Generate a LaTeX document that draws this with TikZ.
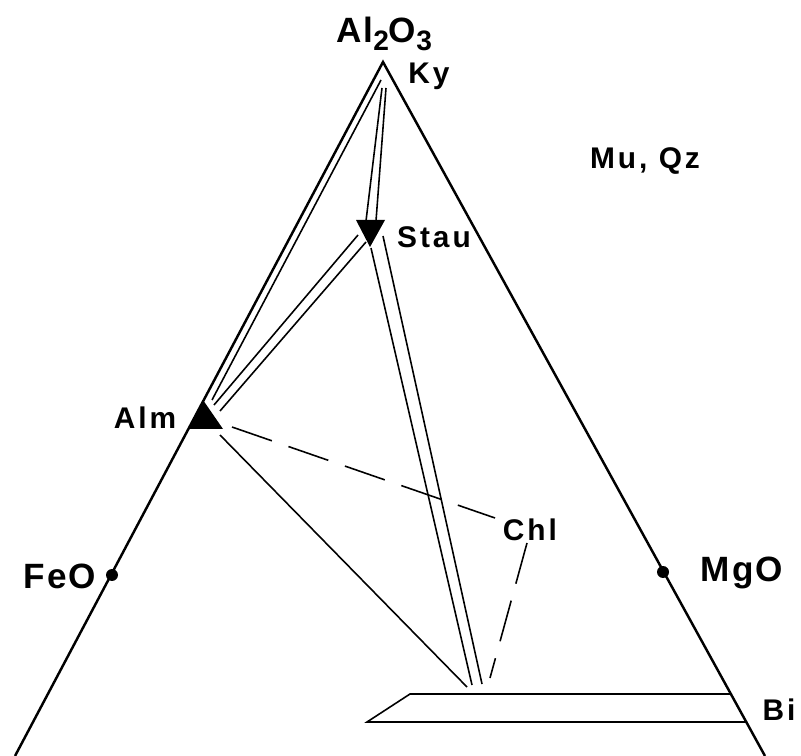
\documentclass[tikz,border=0pt]{standalone}
\usepackage{fontspec}
\usepackage{tikz}
\usetikzlibrary{positioning}
\newfontfamily\lblfont[LetterSpace=10]{Liberation Sans}
\newfontfamily\bigfont[LetterSpace=6]{Liberation Sans}
\newcommand{\lowsub}[1]{\raisebox{-0.45ex}{\fontsize{16pt}{17pt}\selectfont #1}}

\begin{document}
\begin{tikzpicture}[x=0.02cm, y=-0.02cm,
		edge/.style={line width=1.4pt},
		tie/.style={line width=0.9pt},
		dashtie/.style={line width=0.9pt, dash pattern=on 24pt off 10pt},
		smalllbl/.style={font=\lblfont\bfseries\fontsize{17pt}{19pt}\selectfont, inner sep=0pt},
		biglbl/.style={font=\bigfont\bfseries\fontsize{20pt}{22pt}\selectfont, inner sep=0pt},
		enddot/.style={circle, fill, inner sep=0pt, minimum size=0.24cm}]
	\useasboundingbox (0,0) rectangle (801,756);

	% corners of the triangle
	\coordinate (ky) at (383,62);
	\coordinate (bl) at (15,756);
	\coordinate (br) at (765,756);
	\draw[edge, line join=miter] (bl) -- (ky) -- (br);

	% end members
	\node[enddot] (feodot) at (112,575) {};
	\node[enddot] (mgodot) at (663,572) {};
	\fill (203,400) -- (188,429) -- (223,429) -- cycle;
	\fill (356,220) -- (385,220) -- (370,247) -- cycle;

	% labels
	\node[biglbl] (al2o3) at (384,34) {Al\lowsub{2}O\lowsub{3}};
	\node[biglbl] (feo) at (60,576) {FeO};
	\node[biglbl] (mgo) at (742,573) {MgO};
	\node[smalllbl] (kylbl) at (429,76) {Ky};
	\node[smalllbl] (muqz) at (645,161) {Mu, Qz};
	\node[smalllbl] (staulbl) at (434,237) {Stau};
	\node[smalllbl] (almlbl) at (145,418) {Alm};
	\node[smalllbl] (chllbl) at (530,530) {Chl};
	\node[smalllbl] (bilbl) at (779,710) {Bi};

	% ends of the tie lines
	\coordinate (kyA) at (381,80);
	\coordinate (almA) at (212,400);
	\coordinate (kyS1) at (382,88);
	\coordinate (kyS2) at (386,88);
	\coordinate (stauK1) at (366,221);
	\coordinate (stauK2) at (376,221);
	\coordinate (stauA1) at (358,235);
	\coordinate (stauA2) at (366,242);
	\coordinate (almS1) at (214,405);
	\coordinate (almS2) at (220,411);
	\coordinate (stauB1) at (371,248);
	\coordinate (stauB2) at (383,236);
	\coordinate (biS1) at (472,685);
	\coordinate (biS2) at (482,684);
	\coordinate (almB) at (220,435);
	\coordinate (biA) at (467,687);
	\coordinate (almC) at (232,427);
	\coordinate (chlA) at (495,518);
	\coordinate (chlB) at (527,543);
	\coordinate (biC) at (490,678);

	% biotite band
	\coordinate (bi1) at (410,694);
	\coordinate (bi2) at (731,694);
	\coordinate (bi3) at (367,722);
	\coordinate (bi4) at (747,722);

	\draw[tie] (kyA) -- (almA);
	\draw[tie] (kyS1) -- (stauK1);
	\draw[tie] (kyS2) -- (stauK2);
	\draw[tie] (stauA1) -- (almS1);
	\draw[tie] (stauA2) -- (almS2);
	\draw[tie] (stauB1) -- (biS1);
	\draw[tie] (stauB2) -- (biS2);
	\draw[tie] (almB) -- (biA);
	\draw[dashtie] (almC) -- (chlA);
	\draw[dashtie] (chlB) -- (biC);
	\draw[tie] (bi2) -- (bi1) -- (bi3) -- (bi4);
\end{tikzpicture}
\end{document}
